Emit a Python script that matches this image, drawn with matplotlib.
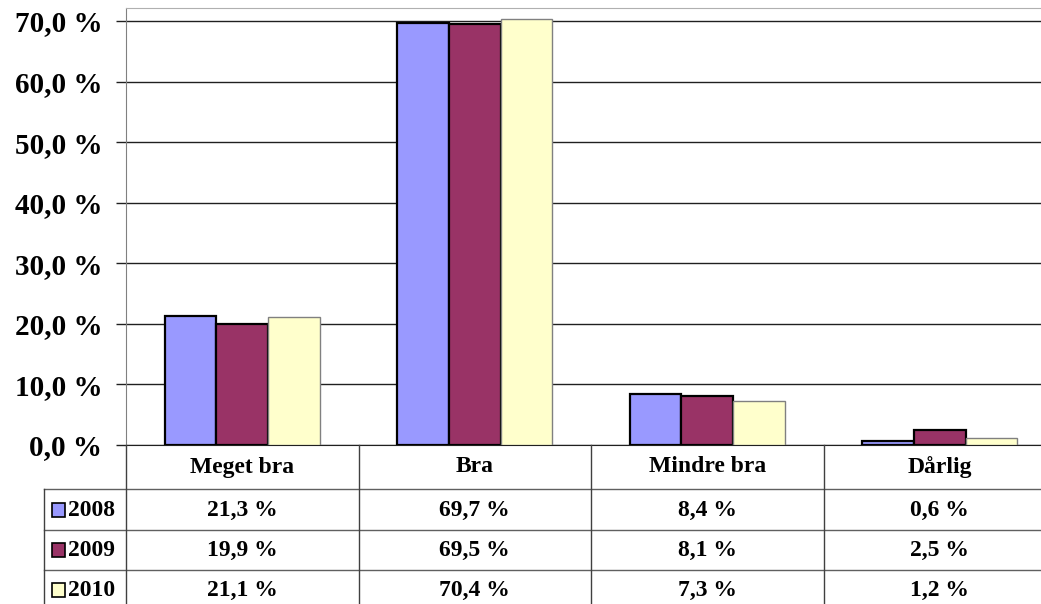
import matplotlib
matplotlib.use('Agg')
import matplotlib.pyplot as plt
from matplotlib.patches import Rectangle
import numpy as np

categories = ['Meget bra', 'Bra', 'Mindre bra', 'Dårlig']
years = ['2008', '2009', '2010']
values_2008 = [21.3, 69.7, 8.4, 0.6]
values_2009 = [19.9, 69.5, 8.1, 2.5]
values_2010 = [21.1, 70.4, 7.3, 1.2]
yticks = [0, 10, 20, 30, 40, 50, 60, 70]

series = [values_2008, values_2009, values_2010]
colors = ['#9999FF', '#993366', '#FFFFCC']
edges = ['black', 'black', '#808080']
edge_w = [1.6, 1.6, 1.0]

plt.rcParams['font.family'] = ['Liberation Serif', 'DejaVu Serif']
plt.rcParams['font.weight'] = 'bold'

W, H = 1041, 604
fig = plt.figure(figsize=(W / 100, H / 100), dpi=100)

# pixel layout
x0, cat_w = 126, 232.5
y_top, y_zero = 8, 445

ax = fig.add_axes([x0 / W, (H - y_zero) / H, 4 * cat_w / W, (y_zero - y_top) / H])
x = np.arange(len(categories))
bw = 1 / 4.5
for i, vals in enumerate(series):
    ax.bar(x + (i - 1) * bw, vals, width=bw, color=colors[i], edgecolor=edges[i],
           linewidth=edge_w[i], zorder=3)

ax.set_xlim(-0.5, len(categories) - 0.5)
ax.set_ylim(0, (y_zero - y_top) / ((y_zero - 21) / 70))
ax.set_yticks(yticks)
ax.set_yticklabels([f'{v:.1f} %'.replace('.', ',') for v in yticks], fontsize=21,
                   fontweight='bold')
ax.yaxis.grid(True, color='#202020', linewidth=1.0, zorder=0)
ax.tick_params(axis='y', length=7, width=1.0, color='#202020', pad=10)
ax.set_xticks([])
ax.spines['left'].set_color('#808080')
ax.spines['top'].set_color('#b0b0b0')
ax.spines['right'].set_visible(False)
ax.spines['bottom'].set_color('#202020')

# data table below the plot
tab = fig.add_axes([x0 / W, 0, 4 * cat_w / W, (H - y_zero) / H])
tab.set_xlim(-0.5, len(categories) - 0.5)
tab.set_ylim(H, y_zero)
tab.axis('off')

legend_left = -0.5 - (x0 - 44) / cat_w
row_edges = [489, 530, 570]
row_centers = [510, 550, 590]
line_c = '#404040'

for yy in row_edges:
    tab.plot([legend_left, len(categories) - 0.5], [yy, yy], color='#606060', lw=1.0,
             clip_on=False)
for k in range(len(categories)):
    tab.plot([k - 0.5, k - 0.5], [y_zero, H], color=line_c, lw=1.0, clip_on=False)
tab.plot([legend_left, legend_left], [489, H], color=line_c, lw=1.0, clip_on=False)

for k, c in enumerate(categories):
    tab.text(k, 467, c, ha='center', va='center', fontsize=17, fontweight='bold')

for i, vals in enumerate(series):
    yc = row_centers[i]
    for k, v in enumerate(vals):
        tab.text(k, yc, f'{v:.1f} %'.replace('.', ','), ha='center', va='center',
                 fontsize=17, fontweight='bold')
    kx = legend_left + 8 / cat_w
    tab.add_patch(Rectangle((kx, yc - 7), 13 / cat_w, 14, facecolor=colors[i],
                            edgecolor='black', lw=1.2, clip_on=False))
    tab.text(legend_left + 24 / cat_w, yc, years[i], ha='left', va='center',
             fontsize=17, fontweight='bold')

fig.savefig('out.png', dpi=100)
